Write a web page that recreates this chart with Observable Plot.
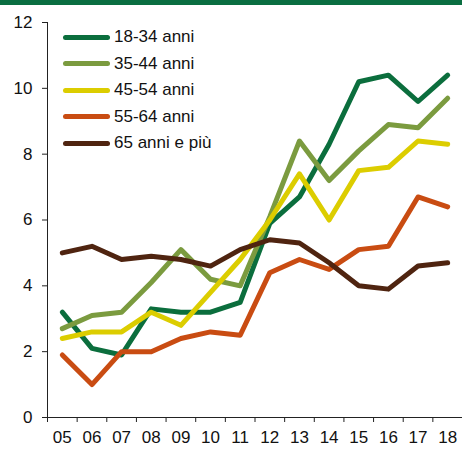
<!DOCTYPE html>
<html>
<head>
<meta charset="utf-8">
<script src="https://cdn.jsdelivr.net/npm/d3@7"></script>
<script src="https://cdn.jsdelivr.net/npm/@observablehq/plot@0.6"></script>
<style>
  html, body { margin: 0; padding: 0; background: #fff; }
  body { width: 462px; height: 451px; position: relative; overflow: hidden; font-family: "Liberation Sans", Arial, sans-serif; }
  #bar { height: 5px; background: #0a6e41; }
  #legend { position: absolute; left: 63px; top: 24px; }
  .row { display: flex; align-items: center; height: 26.5px; font-size: 17px; color: #111; }
  .sw { width: 47px; height: 5px; border-radius: 3px; margin-right: 4px; }
</style>
</head>
<body>
<div id="bar"></div>
<div id="chart"></div>
<div id="legend"></div>
<script>
const years = [2005, 2006, 2007, 2008, 2009, 2010, 2011, 2012, 2013, 2014, 2015, 2016, 2017, 2018];
const yearLabels = ["05", "06", "07", "08", "09", "10", "11", "12", "13", "14", "15", "16", "17", "18"];
const seriesNames = ["18-34 anni", "35-44 anni", "45-54 anni", "55-64 anni", "65 anni e più"];
const seriesColors = ["#0b6e3d", "#7b9b3f", "#dccd00", "#c94c12", "#4f2410"];
const v1834 = [3.2, 2.1, 1.9, 3.3, 3.2, 3.2, 3.5, 5.9, 6.7, 8.3, 10.2, 10.4, 9.6, 10.4];
const v3544 = [2.7, 3.1, 3.2, 4.1, 5.1, 4.2, 4.0, 6.1, 8.4, 7.2, 8.1, 8.9, 8.8, 9.7];
const v4554 = [2.4, 2.6, 2.6, 3.2, 2.8, 3.8, 4.8, 6.0, 7.4, 6.0, 7.5, 7.6, 8.4, 8.3];
const v5564 = [1.9, 1.0, 2.0, 2.0, 2.4, 2.6, 2.5, 4.4, 4.8, 4.5, 5.1, 5.2, 6.7, 6.4];
const v65 = [5.0, 5.2, 4.8, 4.9, 4.8, 4.6, 5.1, 5.4, 5.3, 4.7, 4.0, 3.9, 4.6, 4.7];
const yTicks = [0, 2, 4, 6, 8, 10, 12];

const allValues = [v1834, v3544, v4554, v5564, v65];
const data = [];
seriesNames.forEach((s, i) => {
  years.forEach((yr, j) => data.push({series: s, year: yr, value: allValues[i][j]}));
});
const boundaries = years.map(y => y - 0.5).concat([years[years.length - 1] + 0.5]);
const labelOf = new Map(years.map((y, i) => [y, yearLabels[i]]));

const chart = Plot.plot({
  width: 462,
  height: 446,
  marginLeft: 47,
  marginRight: 0,
  marginTop: 17,
  marginBottom: 34,
  style: {fontFamily: "Liberation Sans, Arial, sans-serif", fontSize: "17px", color: "#111", background: "#fff"},
  x: {type: "linear", domain: [boundaries[0], boundaries[boundaries.length - 1]]},
  y: {domain: [0, 12]},
  color: {domain: seriesNames, range: seriesColors},
  marks: [
    Plot.axisY({ticks: yTicks, tickSize: 5, tickPadding: 10, tickFormat: d => String(d), label: null, stroke: "#222"}),
    Plot.axisX({ticks: boundaries, tickSize: 5, tickFormat: () => "", label: null, stroke: "#222"}),
    Plot.axisX({ticks: years, tickSize: 0, tickPadding: 13, tickFormat: d => labelOf.get(d), label: null}),
    Plot.ruleX([boundaries[0]], {stroke: "#222", strokeWidth: 1}),
    Plot.ruleY([0], {stroke: "#222", strokeWidth: 1}),
    Plot.line(data, {x: "year", y: "value", z: "series", stroke: "series", strokeWidth: 5, strokeLinejoin: "round", strokeLinecap: "round"})
  ]
});
document.getElementById("chart").appendChild(chart);

const legend = document.getElementById("legend");
seriesNames.forEach((s, i) => {
  const row = document.createElement("div");
  row.className = "row";
  const sw = document.createElement("div");
  sw.className = "sw";
  sw.style.background = seriesColors[i];
  const t = document.createElement("span");
  t.textContent = s;
  row.appendChild(sw);
  row.appendChild(t);
  legend.appendChild(row);
});
</script>
</body>
</html>
